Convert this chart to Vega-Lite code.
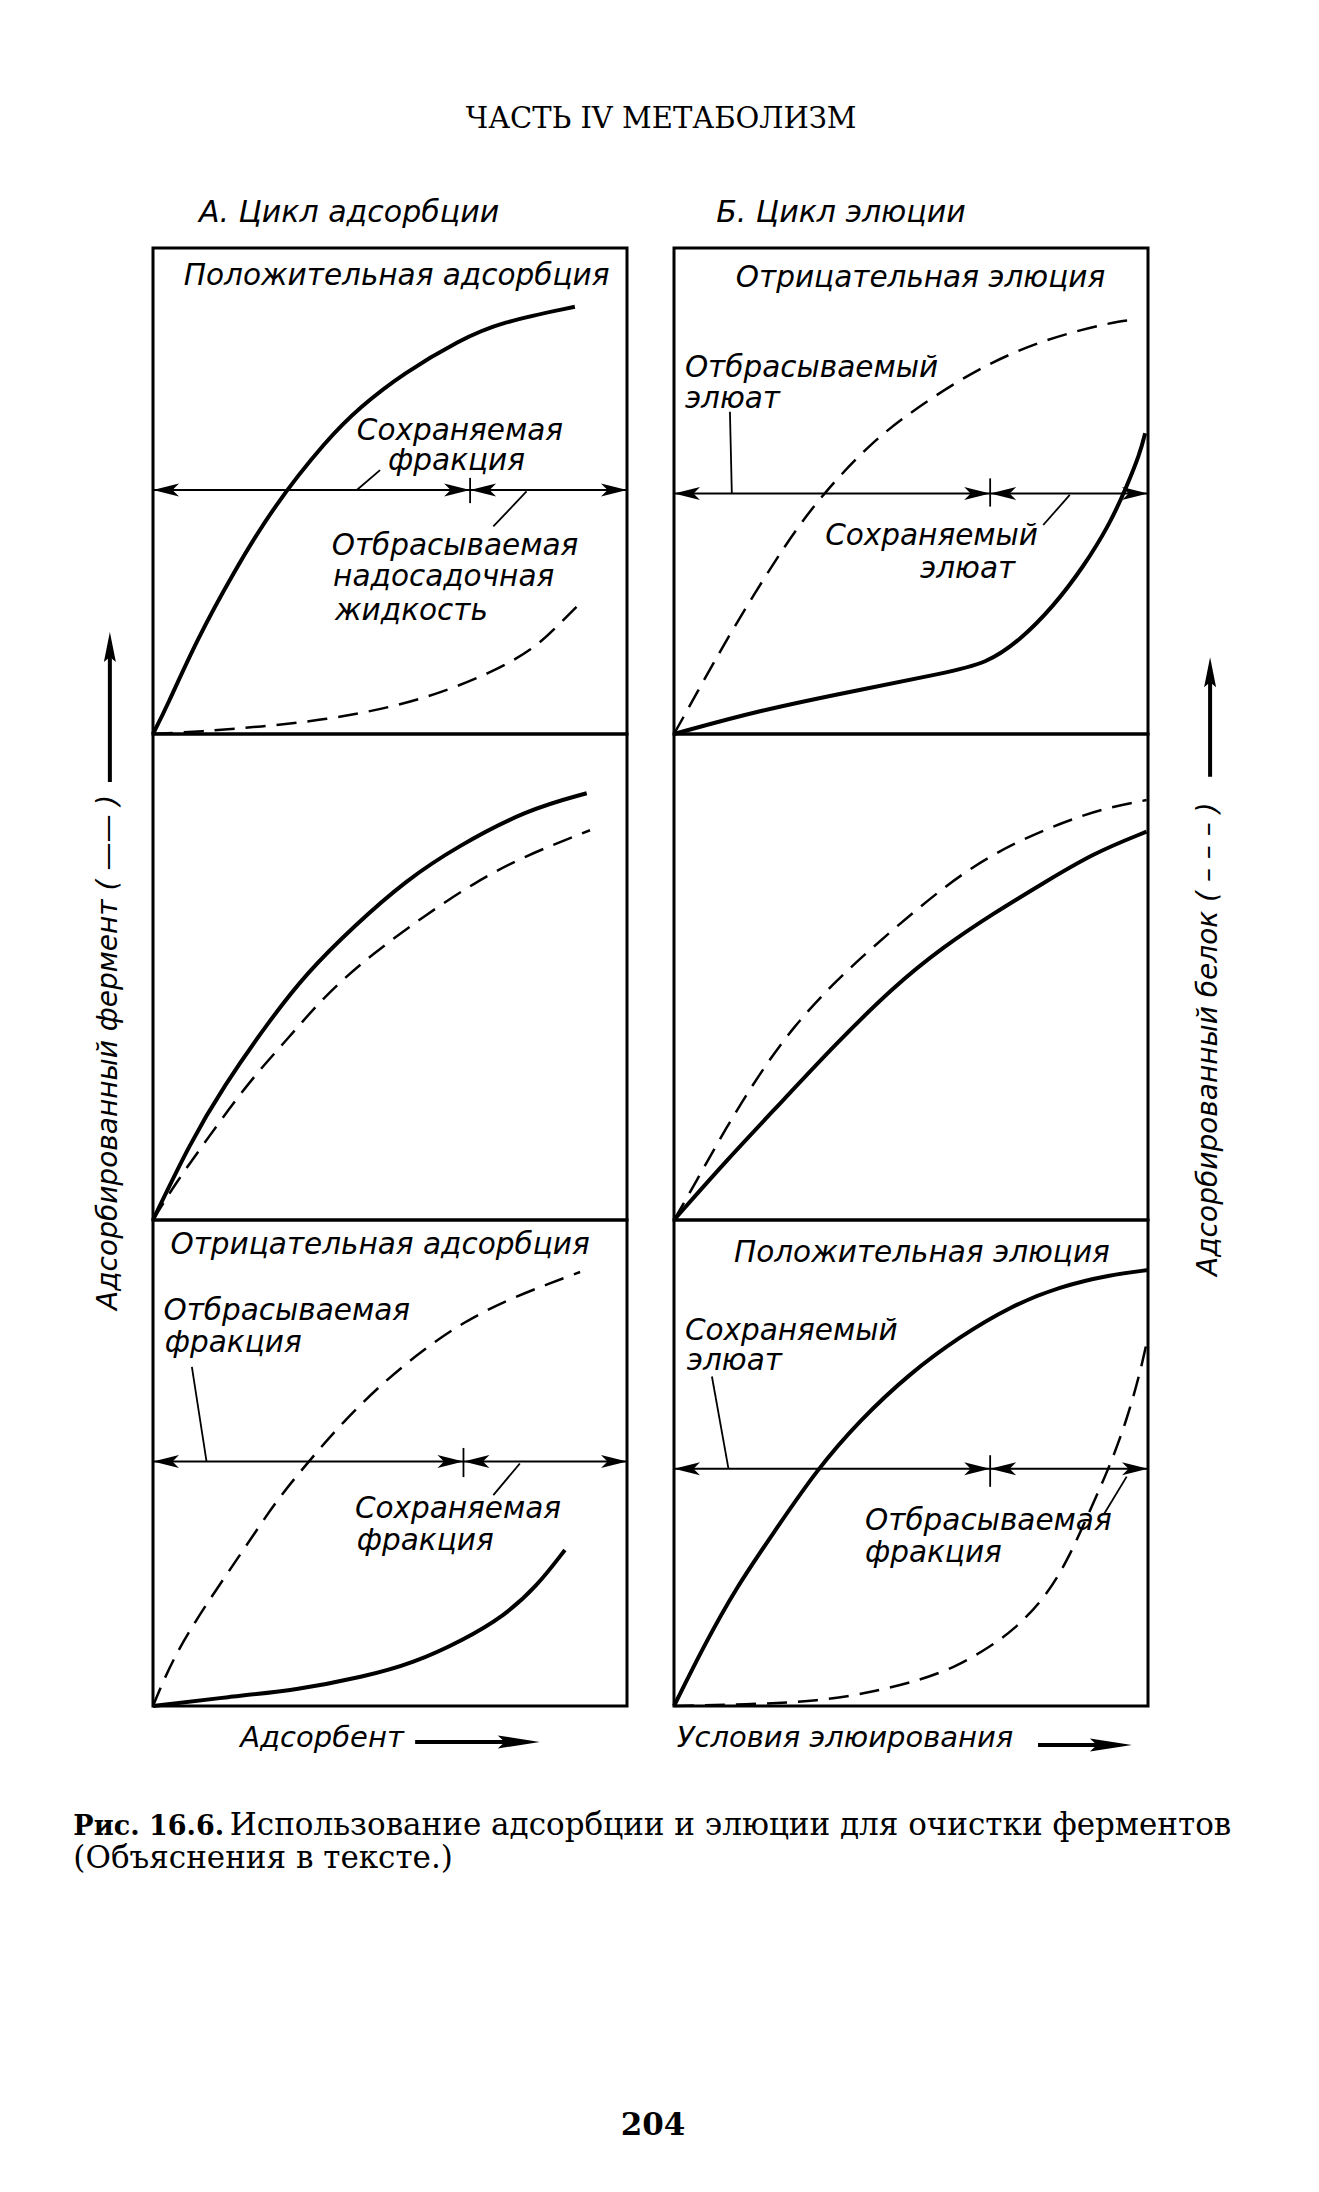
{
  "$schema": "https://vega.github.io/schema/vega-lite/v6.json",
  "autosize": {"type": "none"},
  "padding": {"left": 153, "top": 248, "right": 1166, "bottom": 1944},
  "background": "white",
  "config": {"view": {"stroke": "black", "strokeWidth": 3}},
  "data": {"values": [
    {"c":"А","r":1,"k":"кривая","s":"фермент","u":0,"v":0},
    {"c":"А","r":1,"k":"кривая","s":"фермент","u":2.9,"v":5.6},
    {"c":"А","r":1,"k":"кривая","s":"фермент","u":9.2,"v":19.3},
    {"c":"А","r":1,"k":"кривая","s":"фермент","u":16.9,"v":33.1},
    {"c":"А","r":1,"k":"кривая","s":"фермент","u":25.4,"v":46.8},
    {"c":"А","r":1,"k":"кривая","s":"фермент","u":36.6,"v":60.5},
    {"c":"А","r":1,"k":"кривая","s":"фермент","u":43.7,"v":67.3},
    {"c":"А","r":1,"k":"кривая","s":"фермент","u":52.8,"v":74.2},
    {"c":"А","r":1,"k":"кривая","s":"фермент","u":64.8,"v":81.1},
    {"c":"А","r":1,"k":"кривая","s":"фермент","u":73.2,"v":84.7},
    {"c":"А","r":1,"k":"кривая","s":"фермент","u":89.0,"v":87.9},
    {"c":"А","r":1,"k":"кривая","s":"белок","u":0,"v":0},
    {"c":"А","r":1,"k":"кривая","s":"белок","u":10,"v":0.5},
    {"c":"А","r":1,"k":"кривая","s":"белок","u":22.6,"v":1.5},
    {"c":"А","r":1,"k":"кривая","s":"белок","u":36.6,"v":2.9},
    {"c":"А","r":1,"k":"кривая","s":"белок","u":50.7,"v":5.6},
    {"c":"А","r":1,"k":"кривая","s":"белок","u":60.5,"v":8.4},
    {"c":"А","r":1,"k":"кривая","s":"белок","u":71.1,"v":12.5},
    {"c":"А","r":1,"k":"кривая","s":"белок","u":80.2,"v":17.3},
    {"c":"А","r":1,"k":"кривая","s":"белок","u":85.9,"v":22.8},
    {"c":"А","r":1,"k":"кривая","s":"белок","u":90.1,"v":26.9},
    {"c":"Б","r":1,"k":"кривая","s":"белок","u":0,"v":0},
    {"c":"Б","r":1,"k":"кривая","s":"белок","u":4.4,"v":7.7},
    {"c":"Б","r":1,"k":"кривая","s":"белок","u":12.2,"v":21.4},
    {"c":"Б","r":1,"k":"кривая","s":"белок","u":24.0,"v":39.9},
    {"c":"Б","r":1,"k":"кривая","s":"белок","u":31.5,"v":49.5},
    {"c":"Б","r":1,"k":"кривая","s":"белок","u":41.4,"v":59.8},
    {"c":"Б","r":1,"k":"кривая","s":"белок","u":50.5,"v":66.7},
    {"c":"Б","r":1,"k":"кривая","s":"белок","u":64.6,"v":75.6},
    {"c":"Б","r":1,"k":"кривая","s":"белок","u":78.6,"v":81.4},
    {"c":"Б","r":1,"k":"кривая","s":"белок","u":92.7,"v":84.8},
    {"c":"Б","r":1,"k":"кривая","s":"белок","u":96.9,"v":85.2},
    {"c":"Б","r":1,"k":"кривая","s":"фермент","u":0,"v":0},
    {"c":"Б","r":1,"k":"кривая","s":"фермент","u":18.1,"v":4.9},
    {"c":"Б","r":1,"k":"кривая","s":"фермент","u":39.2,"v":9.1},
    {"c":"Б","r":1,"k":"кривая","s":"фермент","u":56.8,"v":12.5},
    {"c":"Б","r":1,"k":"кривая","s":"фермент","u":66.0,"v":14.5},
    {"c":"Б","r":1,"k":"кривая","s":"фермент","u":73.0,"v":19.3},
    {"c":"Б","r":1,"k":"кривая","s":"фермент","u":80.0,"v":26.2},
    {"c":"Б","r":1,"k":"кривая","s":"фермент","u":86.4,"v":34.4},
    {"c":"Б","r":1,"k":"кривая","s":"фермент","u":92.0,"v":43.3},
    {"c":"Б","r":1,"k":"кривая","s":"фермент","u":95.5,"v":50.9},
    {"c":"Б","r":1,"k":"кривая","s":"фермент","u":98.3,"v":57.7},
    {"c":"Б","r":1,"k":"кривая","s":"фермент","u":99.4,"v":61.9},
    {"c":"А","r":2,"k":"кривая","s":"фермент","u":0,"v":0},
    {"c":"А","r":2,"k":"кривая","s":"фермент","u":7.8,"v":15.8},
    {"c":"А","r":2,"k":"кривая","s":"фермент","u":14.8,"v":27.4},
    {"c":"А","r":2,"k":"кривая","s":"фермент","u":24.7,"v":41.2},
    {"c":"А","r":2,"k":"кривая","s":"фермент","u":32.4,"v":50.8},
    {"c":"А","r":2,"k":"кривая","s":"фермент","u":42.3,"v":60.4},
    {"c":"А","r":2,"k":"кривая","s":"фермент","u":53.5,"v":70.0},
    {"c":"А","r":2,"k":"кривая","s":"фермент","u":64.1,"v":76.8},
    {"c":"А","r":2,"k":"кривая","s":"фермент","u":78.8,"v":84.4},
    {"c":"А","r":2,"k":"кривая","s":"фермент","u":91.5,"v":87.8},
    {"c":"А","r":2,"k":"кривая","s":"белок","u":0,"v":0},
    {"c":"А","r":2,"k":"кривая","s":"белок","u":4.3,"v":6.9},
    {"c":"А","r":2,"k":"кривая","s":"белок","u":11.3,"v":16.5},
    {"c":"А","r":2,"k":"кривая","s":"белок","u":20.5,"v":28.8},
    {"c":"А","r":2,"k":"кривая","s":"белок","u":28.2,"v":37.0},
    {"c":"А","r":2,"k":"кривая","s":"белок","u":36.6,"v":46.6},
    {"c":"А","r":2,"k":"кривая","s":"белок","u":46.5,"v":54.9},
    {"c":"А","r":2,"k":"кривая","s":"белок","u":57.0,"v":62.4},
    {"c":"А","r":2,"k":"кривая","s":"белок","u":67.6,"v":69.3},
    {"c":"А","r":2,"k":"кривая","s":"белок","u":78.1,"v":74.8},
    {"c":"А","r":2,"k":"кривая","s":"белок","u":92.2,"v":80.2},
    {"c":"Б","r":2,"k":"кривая","s":"белок","u":0,"v":0},
    {"c":"Б","r":2,"k":"кривая","s":"белок","u":4.1,"v":6.9},
    {"c":"Б","r":2,"k":"кривая","s":"белок","u":11.1,"v":19.2},
    {"c":"Б","r":2,"k":"кривая","s":"белок","u":18.1,"v":30.2},
    {"c":"Б","r":2,"k":"кривая","s":"белок","u":25.2,"v":39.8},
    {"c":"Б","r":2,"k":"кривая","s":"белок","u":33.6,"v":48.7},
    {"c":"Б","r":2,"k":"кривая","s":"белок","u":42.0,"v":56.2},
    {"c":"Б","r":2,"k":"кривая","s":"белок","u":51.9,"v":64.5},
    {"c":"Б","r":2,"k":"кривая","s":"белок","u":61.7,"v":72.0},
    {"c":"Б","r":2,"k":"кривая","s":"белок","u":71.6,"v":77.5},
    {"c":"Б","r":2,"k":"кривая","s":"белок","u":81.4,"v":81.6},
    {"c":"Б","r":2,"k":"кривая","s":"белок","u":90.6,"v":84.7},
    {"c":"Б","r":2,"k":"кривая","s":"белок","u":99.7,"v":86.4},
    {"c":"Б","r":2,"k":"кривая","s":"фермент","u":0,"v":0},
    {"c":"Б","r":2,"k":"кривая","s":"фермент","u":11.1,"v":12.3},
    {"c":"Б","r":2,"k":"кривая","s":"фермент","u":23.1,"v":24.7},
    {"c":"Б","r":2,"k":"кривая","s":"фермент","u":33.6,"v":35.7},
    {"c":"Б","r":2,"k":"кривая","s":"фермент","u":46.3,"v":48.0},
    {"c":"Б","r":2,"k":"кривая","s":"фермент","u":56.8,"v":56.2},
    {"c":"Б","r":2,"k":"кривая","s":"фермент","u":67.4,"v":63.1},
    {"c":"Б","r":2,"k":"кривая","s":"фермент","u":77.9,"v":69.3},
    {"c":"Б","r":2,"k":"кривая","s":"фермент","u":88.5,"v":75.5},
    {"c":"Б","r":2,"k":"кривая","s":"фермент","u":99.7,"v":79.9},
    {"c":"А","r":3,"k":"кривая","s":"белок","u":0,"v":0},
    {"c":"А","r":3,"k":"кривая","s":"белок","u":4.3,"v":10.1},
    {"c":"А","r":3,"k":"кривая","s":"белок","u":11.3,"v":21.1},
    {"c":"А","r":3,"k":"кривая","s":"белок","u":19.1,"v":32.1},
    {"c":"А","r":3,"k":"кривая","s":"белок","u":26.1,"v":42.4},
    {"c":"А","r":3,"k":"кривая","s":"белок","u":33.1,"v":50.6},
    {"c":"А","r":3,"k":"кривая","s":"белок","u":40.1,"v":58.5},
    {"c":"А","r":3,"k":"кривая","s":"белок","u":48.6,"v":66.6},
    {"c":"А","r":3,"k":"кривая","s":"белок","u":57.0,"v":73.3},
    {"c":"А","r":3,"k":"кривая","s":"белок","u":65.5,"v":79.0},
    {"c":"А","r":3,"k":"кривая","s":"белок","u":74.6,"v":83.5},
    {"c":"А","r":3,"k":"кривая","s":"белок","u":83.8,"v":87.0},
    {"c":"А","r":3,"k":"кривая","s":"белок","u":90.1,"v":89.3},
    {"c":"А","r":3,"k":"кривая","s":"фермент","u":0,"v":0},
    {"c":"А","r":3,"k":"кривая","s":"фермент","u":16.2,"v":1.9},
    {"c":"А","r":3,"k":"кривая","s":"фермент","u":30.3,"v":3.3},
    {"c":"А","r":3,"k":"кривая","s":"фермент","u":44.4,"v":6.0},
    {"c":"А","r":3,"k":"кривая","s":"фермент","u":54.9,"v":8.8},
    {"c":"А","r":3,"k":"кривая","s":"фермент","u":65.5,"v":13.6},
    {"c":"А","r":3,"k":"кривая","s":"фермент","u":73.9,"v":18.4},
    {"c":"А","r":3,"k":"кривая","s":"фермент","u":80.9,"v":24.5},
    {"c":"А","r":3,"k":"кривая","s":"фермент","u":86.9,"v":32.1},
    {"c":"Б","r":3,"k":"кривая","s":"фермент","u":0,"v":0},
    {"c":"Б","r":3,"k":"кривая","s":"фермент","u":6.2,"v":12.2},
    {"c":"Б","r":3,"k":"кривая","s":"фермент","u":13.2,"v":24.5},
    {"c":"Б","r":3,"k":"кривая","s":"фермент","u":20.9,"v":35.5},
    {"c":"Б","r":3,"k":"кривая","s":"фермент","u":30.1,"v":48.6},
    {"c":"Б","r":3,"k":"кривая","s":"фермент","u":39.2,"v":58.8},
    {"c":"Б","r":3,"k":"кривая","s":"фермент","u":49.8,"v":68.5},
    {"c":"Б","r":3,"k":"кривая","s":"фермент","u":60.3,"v":76.0},
    {"c":"Б","r":3,"k":"кривая","s":"фермент","u":70.9,"v":82.2},
    {"c":"Б","r":3,"k":"кривая","s":"фермент","u":81.4,"v":86.3},
    {"c":"Б","r":3,"k":"кривая","s":"фермент","u":92.0,"v":88.7},
    {"c":"Б","r":3,"k":"кривая","s":"фермент","u":100,"v":89.7},
    {"c":"Б","r":3,"k":"кривая","s":"белок","u":0,"v":0},
    {"c":"Б","r":3,"k":"кривая","s":"белок","u":15,"v":0.3},
    {"c":"Б","r":3,"k":"кривая","s":"белок","u":30.8,"v":1.0},
    {"c":"Б","r":3,"k":"кривая","s":"белок","u":42.0,"v":2.9},
    {"c":"Б","r":3,"k":"кривая","s":"белок","u":51.9,"v":5.3},
    {"c":"Б","r":3,"k":"кривая","s":"белок","u":59.6,"v":8.1},
    {"c":"Б","r":3,"k":"кривая","s":"белок","u":66.7,"v":12.2},
    {"c":"Б","r":3,"k":"кривая","s":"белок","u":71.6,"v":15.6},
    {"c":"Б","r":3,"k":"кривая","s":"белок","u":77.9,"v":21.8},
    {"c":"Б","r":3,"k":"кривая","s":"белок","u":82.8,"v":29.4},
    {"c":"Б","r":3,"k":"кривая","s":"белок","u":87.8,"v":40.3},
    {"c":"Б","r":3,"k":"кривая","s":"белок","u":92.0,"v":49.5},
    {"c":"Б","r":3,"k":"кривая","s":"белок","u":95.5,"v":58.8},
    {"c":"Б","r":3,"k":"кривая","s":"белок","u":98.3,"v":68.4},
    {"c":"Б","r":3,"k":"кривая","s":"белок","u":100,"v":76.0},

    {"c":"А","r":1,"k":"скобка","u":0,"u2":100,"v":50.2},
    {"c":"Б","r":1,"k":"скобка","u":0,"u2":100,"v":49.5},
    {"c":"А","r":3,"k":"скобка","u":0,"u2":100,"v":50.3},
    {"c":"Б","r":3,"k":"скобка","u":0,"u2":100,"v":48.8},

    {"c":"А","r":1,"k":"линия","u":66.9,"u2":66.9,"v":47.5,"v2":52.7},
    {"c":"Б","r":1,"k":"линия","u":66.7,"u2":66.7,"v":46.8,"v2":52.6},
    {"c":"А","r":3,"k":"линия","u":65.5,"u2":65.5,"v":47.1,"v2":53.1},
    {"c":"Б","r":3,"k":"линия","u":66.7,"u2":66.7,"v":45.1,"v2":51.6},
    {"c":"А","r":1,"k":"линия","u":43.0,"u2":47.9,"v":50.2,"v2":54.3},
    {"c":"А","r":1,"k":"линия","u":71.8,"u2":78.8,"v":42.7,"v2":49.9},
    {"c":"Б","r":1,"k":"линия","u":11.8,"u2":12.2,"v":66.3,"v2":49.5},
    {"c":"Б","r":1,"k":"линия","u":77.9,"u2":83.5,"v":43.0,"v2":49.2},
    {"c":"А","r":3,"k":"линия","u":8.2,"u2":11.3,"v":69.8,"v2":50.3},
    {"c":"А","r":3,"k":"линия","u":71.8,"u2":77.4,"v":43.4,"v2":49.9},
    {"c":"Б","r":3,"k":"линия","u":8.0,"u2":11.5,"v":67.8,"v2":48.8},
    {"c":"Б","r":3,"k":"линия","u":90.6,"u2":95.5,"v":39.3,"v2":47.2},

    {"c":"А","r":1,"k":"наконечник","d":"←","u":0,"v":50.2},
    {"c":"А","r":1,"k":"наконечник","d":"→","u":66.9,"v":50.2},
    {"c":"А","r":1,"k":"наконечник","d":"←","u":66.9,"v":50.2},
    {"c":"А","r":1,"k":"наконечник","d":"→","u":100,"v":50.2},
    {"c":"Б","r":1,"k":"наконечник","d":"←","u":0,"v":49.5},
    {"c":"Б","r":1,"k":"наконечник","d":"→","u":66.7,"v":49.5},
    {"c":"Б","r":1,"k":"наконечник","d":"←","u":66.7,"v":49.5},
    {"c":"Б","r":1,"k":"наконечник","d":"→","u":100,"v":49.5},
    {"c":"А","r":3,"k":"наконечник","d":"←","u":0,"v":50.3},
    {"c":"А","r":3,"k":"наконечник","d":"→","u":65.5,"v":50.3},
    {"c":"А","r":3,"k":"наконечник","d":"←","u":65.5,"v":50.3},
    {"c":"А","r":3,"k":"наконечник","d":"→","u":100,"v":50.3},
    {"c":"Б","r":3,"k":"наконечник","d":"←","u":0,"v":48.8},
    {"c":"Б","r":3,"k":"наконечник","d":"→","u":66.7,"v":48.8},
    {"c":"Б","r":3,"k":"наконечник","d":"←","u":66.7,"v":48.8},
    {"c":"Б","r":3,"k":"наконечник","d":"→","u":100,"v":48.8},

    {"c":"А","r":2,"k":"стрелка","u":-9.1,"u2":-9.1,"v":90.1,"v2":117.0},
    {"c":"Б","r":2,"k":"стрелка","u":113.1,"u2":113.1,"v":91.2,"v2":112.0},
    {"c":"А","r":3,"k":"стрелка","u":55.3,"u2":78.0,"v":-7.4,"v2":-7.4},
    {"c":"Б","r":3,"k":"стрелка","u":76.8,"u2":93.0,"v":-8.0,"v2":-8.0},
    {"c":"А","r":2,"k":"остриё","d":"↑","u":-9.1,"v":121.0},
    {"c":"Б","r":2,"k":"остриё","d":"↑","u":113.1,"v":115.8},
    {"c":"А","r":3,"k":"остриё","d":"⇒","u":81.6,"v":-7.4},
    {"c":"Б","r":3,"k":"остриё","d":"⇒","u":96.6,"v":-8.0},

    {"c":"А","r":1,"k":"заголовок","u":51.4,"v":92.4,"t":"Положительная адсорбция"},
    {"c":"Б","r":1,"k":"заголовок","u":52.0,"v":92.0,"t":"Отрицательная элюция"},
    {"c":"А","r":3,"k":"заголовок","u":47.9,"v":93.1,"t":"Отрицательная адсорбция"},
    {"c":"Б","r":3,"k":"заголовок","u":52.3,"v":91.4,"t":"Положительная элюция"},

    {"c":"А","r":1,"k":"надпись","u":43.0,"v":60.5,"t":"Сохраняемая"},
    {"c":"А","r":1,"k":"надпись","u":49.6,"v":54.3,"t":"фракция"},
    {"c":"А","r":1,"k":"надпись","u":37.7,"v":36.8,"t":"Отбрасываемая"},
    {"c":"А","r":1,"k":"надпись","u":38.0,"v":30.5,"t":"надосадочная"},
    {"c":"А","r":1,"k":"надпись","u":38.4,"v":23.5,"t":"жидкость"},
    {"c":"Б","r":1,"k":"надпись","u":2.3,"v":73.5,"t":"Отбрасываемый"},
    {"c":"Б","r":1,"k":"надпись","u":2.3,"v":67.0,"t":"элюат"},
    {"c":"Б","r":1,"k":"надпись","u":31.9,"v":38.9,"t":"Сохраняемый"},
    {"c":"Б","r":1,"k":"надпись","u":51.9,"v":32.0,"t":"элюат"},
    {"c":"А","r":3,"k":"надпись","u":2.2,"v":79.4,"t":"Отбрасываемая"},
    {"c":"А","r":3,"k":"надпись","u":2.5,"v":72.8,"t":"фракция"},
    {"c":"А","r":3,"k":"надпись","u":42.6,"v":38.6,"t":"Сохраняемая"},
    {"c":"А","r":3,"k":"надпись","u":43.0,"v":32.0,"t":"фракция"},
    {"c":"Б","r":3,"k":"надпись","u":2.3,"v":75.4,"t":"Сохраняемый"},
    {"c":"Б","r":3,"k":"надпись","u":2.7,"v":69.2,"t":"элюат"},
    {"c":"Б","r":3,"k":"надпись","u":40.3,"v":36.2,"t":"Отбрасываемая"},
    {"c":"Б","r":3,"k":"надпись","u":40.3,"v":29.6,"t":"фракция"},

    {"c":"А","r":1,"k":"цикл","u":9.7,"v":105.3,"t":"А. Цикл адсорбции"},
    {"c":"Б","r":1,"k":"цикл","u":8.9,"v":105.3,"t":"Б. Цикл элюции"},
    {"c":"А","r":2,"k":"ось_y","u":-9.3,"v":-18.5,"t":"Адсорбированный фермент ( —— )"},
    {"c":"Б","r":2,"k":"ось_y","u":112.9,"v":-11.5,"t":"Адсорбированный белок ( – – – )"},
    {"c":"А","r":3,"k":"ось_x","u":18.4,"v":-8.4,"t":"Адсорбент"},
    {"c":"Б","r":3,"k":"ось_x","u":0.6,"v":-8.4,"t":"Условия элюирования"},
    {"c":"А","r":1,"k":"колонтитул","u":107.2,"v":124.7,"t":"ЧАСТЬ IV  МЕТАБОЛИЗМ"},
    {"c":"А","r":3,"k":"рис","u":-16.8,"v":-26.5,"t":"Рис. 16.6."},
    {"c":"А","r":3,"k":"подпись_рис","u":16.2,"v":-26.5,"t":"Использование адсорбции и элюции для очистки ферментов"},
    {"c":"А","r":3,"k":"подпись_рис","u":-16.8,"v":-33.3,"t":"(Объяснения в тексте.)"},
    {"c":"А","r":3,"k":"страница","u":105.5,"v":-88.3,"t":"204"}
  ]},
  "facet": {
    "column": {"field": "c", "type": "nominal", "header": null, "sort": ["А", "Б"]},
    "row": {"field": "r", "type": "ordinal", "header": null}
  },
  "spacing": {"row": 0, "column": 47},
  "bounds": "flush",
  "spec": {
    "width": 474,
    "height": 486,
    "encoding": {
      "x": {"field": "u", "type": "quantitative", "scale": {"domain": [0, 100]}, "axis": null},
      "y": {"field": "v", "type": "quantitative", "scale": {"domain": [0, 100]}, "axis": null}
    },
    "layer": [
      {"transform": [{"filter": "datum.k === 'кривая' && datum.s === 'фермент'"}],
       "mark": {"type": "line", "color": "black", "strokeWidth": 4, "interpolate": "basis"}},
      {"transform": [{"filter": "datum.k === 'кривая' && datum.s === 'белок'"}],
       "mark": {"type": "line", "color": "black", "strokeWidth": 2.5, "strokeDash": [20, 11], "interpolate": "basis"}},
      {"transform": [{"filter": "datum.k === 'скобка'"}],
       "mark": {"type": "rule", "color": "black", "strokeWidth": 2},
       "encoding": {"x2": {"field": "u2"}}},
      {"transform": [{"filter": "datum.k === 'линия'"}],
       "mark": {"type": "rule", "color": "black", "strokeWidth": 1.8},
       "encoding": {"x2": {"field": "u2"}, "y2": {"field": "v2"}}},
      {"transform": [{"filter": "datum.k === 'стрелка'"}],
       "mark": {"type": "rule", "color": "black", "strokeWidth": 4},
       "encoding": {"x2": {"field": "u2"}, "y2": {"field": "v2"}}},
      {"transform": [{"filter": "datum.k === 'наконечник'"}],
       "mark": {"type": "point", "filled": true, "color": "black", "opacity": 1, "size": 676, "strokeWidth": 0},
       "encoding": {"shape": {"field": "d", "type": "nominal", "legend": null,
         "scale": {"domain": ["→", "←", "↑", "⇒"], "range": ["M0,0L-2,-0.5L-1.5,0L-2,0.5Z", "M0,0L2,-0.5L1.5,0L2,0.5Z", "M0,0L-0.6,3L0,2.5L0.6,3Z", "M0,0L-4.2,-0.65L-3.5,0L-4.2,0.65Z"]}}}},
      {"transform": [{"filter": "datum.k === 'остриё'"}],
       "mark": {"type": "point", "filled": true, "color": "black", "opacity": 1, "size": 400, "strokeWidth": 0},
       "encoding": {"shape": {"field": "d", "type": "nominal", "legend": null,
         "scale": {"domain": ["→", "←", "↑", "⇒"], "range": ["M0,0L-2,-0.5L-1.5,0L-2,0.5Z", "M0,0L2,-0.5L1.5,0L2,0.5Z", "M0,0L-0.6,3L0,2.5L0.6,3Z", "M0,0L-4.2,-0.65L-3.5,0L-4.2,0.65Z"]}}}},
      {"transform": [{"filter": "datum.k === 'заголовок'"}],
       "mark": {"type": "text", "font": "DejaVu Sans", "fontStyle": "italic", "fontSize": 29.5, "align": "center", "baseline": "alphabetic", "color": "black"},
       "encoding": {"text": {"field": "t"}}},
      {"transform": [{"filter": "datum.k === 'надпись'"}],
       "mark": {"type": "text", "font": "DejaVu Sans", "fontStyle": "italic", "fontSize": 29.5, "align": "left", "baseline": "alphabetic", "color": "black"},
       "encoding": {"text": {"field": "t"}}},
      {"transform": [{"filter": "datum.k === 'цикл'"}],
       "mark": {"type": "text", "font": "DejaVu Sans", "fontStyle": "italic", "fontSize": 30, "align": "left", "baseline": "alphabetic", "color": "black"},
       "encoding": {"text": {"field": "t"}}},
      {"transform": [{"filter": "datum.k === 'ось_y'"}],
       "mark": {"type": "text", "font": "DejaVu Sans", "fontStyle": "italic", "fontSize": 28, "angle": 270, "align": "left", "baseline": "middle", "color": "black"},
       "encoding": {"text": {"field": "t"}}},
      {"transform": [{"filter": "datum.k === 'ось_x'"}],
       "mark": {"type": "text", "font": "DejaVu Sans", "fontStyle": "italic", "fontSize": 29, "align": "left", "baseline": "alphabetic", "color": "black"},
       "encoding": {"text": {"field": "t"}}},
      {"transform": [{"filter": "datum.k === 'колонтитул'"}],
       "mark": {"type": "text", "font": "DejaVu Serif", "fontSize": 29, "align": "center", "baseline": "alphabetic", "color": "black"},
       "encoding": {"text": {"field": "t"}}},
      {"transform": [{"filter": "datum.k === 'рис'"}],
       "mark": {"type": "text", "font": "DejaVu Serif", "fontWeight": "bold", "fontSize": 27, "align": "left", "baseline": "alphabetic", "color": "black"},
       "encoding": {"text": {"field": "t"}}},
      {"transform": [{"filter": "datum.k === 'подпись_рис'"}],
       "mark": {"type": "text", "font": "DejaVu Serif", "fontSize": 31, "align": "left", "baseline": "alphabetic", "color": "black"},
       "encoding": {"text": {"field": "t"}}},
      {"transform": [{"filter": "datum.k === 'страница'"}],
       "mark": {"type": "text", "font": "DejaVu Serif", "fontWeight": "bold", "fontSize": 31, "align": "center", "baseline": "alphabetic", "color": "black"},
       "encoding": {"text": {"field": "t"}}}
    ]
  }
}
